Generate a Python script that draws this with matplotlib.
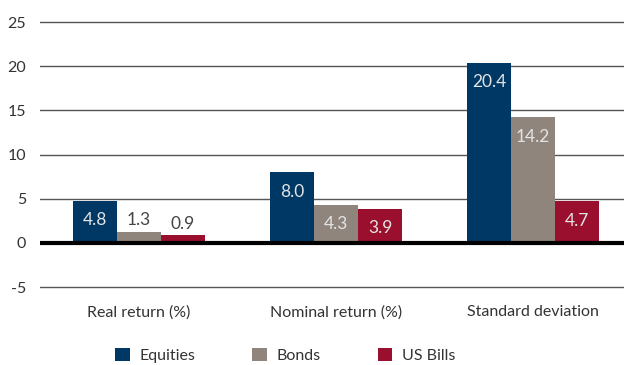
import numpy as np
import matplotlib.pyplot as plt

categories = ['Real return (%)', 'Nominal return (%)', 'Standard deviation']
series = ['Equities', 'Bonds', 'US Bills']
equities = [4.8, 8.0, 20.4]
bonds = [1.3, 4.3, 14.2]
bills = [0.9, 3.9, 4.7]
colors = ['#003865', '#8f857c', '#9b0f2e']

plt.rcParams['font.family'] = ['Lato', 'DejaVu Sans']
plt.rcParams['axes.unicode_minus'] = False
fig = plt.figure(figsize=(6.24, 3.65), dpi=100)

# y range mapped so that 0 sits at ~243 px and 25 at ~22 px
y0, y1 = -5.6, 26.0
pix_per = 44.2 / 5
bottom_px = 243 + (0 - y0) * pix_per
top_px = 243 - y1 * pix_per
ax = fig.add_axes([40 / 624, 1 - bottom_px / 365, 1 - 40 / 624, (bottom_px - top_px) / 365])
ax.set_ylim(y0, y1)
ax.set_xlim(-0.5025, 2.462)

x = np.arange(len(categories))
w = 0.2235
data = [equities, bonds, bills]
for i, (vals, c) in enumerate(zip(data, colors)):
    xs = x + (i - 1) * w
    ax.bar(xs, vals, width=w, color=c, label=series[i], zorder=3)
    for xi, v in zip(xs, vals):
        if v < 2:
            ax.annotate(f'{v:.1f}', (xi, v), xytext=(0, 8), textcoords='offset points',
                        ha='center', va='center', fontsize=12.5, color='#444444', zorder=4)
        else:
            ax.annotate(f'{v:.1f}', (xi, v), xytext=(0, -14), textcoords='offset points',
                        ha='center', va='center', fontsize=12.5, color='#e4e4e4', zorder=4)

ax.set_yticks([-5, 0, 5, 10, 15, 20, 25])
for t in [-5, 5, 10, 15, 20, 25]:
    ax.axhline(t, color='#555555', lw=1.0, zorder=1)
ax.axhline(0, color='black', lw=3, zorder=5)
ax.set_xticks(x)
ax.set_xticklabels(categories)
ax.tick_params(axis='x', length=0, pad=9, labelsize=11.5, labelcolor='#333333')
ax.tick_params(axis='y', length=0, pad=10, labelsize=11.5, labelcolor='#333333')
for s in ax.spines.values():
    s.set_visible(False)

leg = ax.legend(loc='center', bbox_to_anchor=(0.42, -0.224), ncol=3, frameon=False,
                fontsize=11.5, handlelength=0.9, handleheight=0.9, columnspacing=3.6,
                handletextpad=0.6, labelcolor='#333333')

fig.savefig('out.png', dpi=100)
